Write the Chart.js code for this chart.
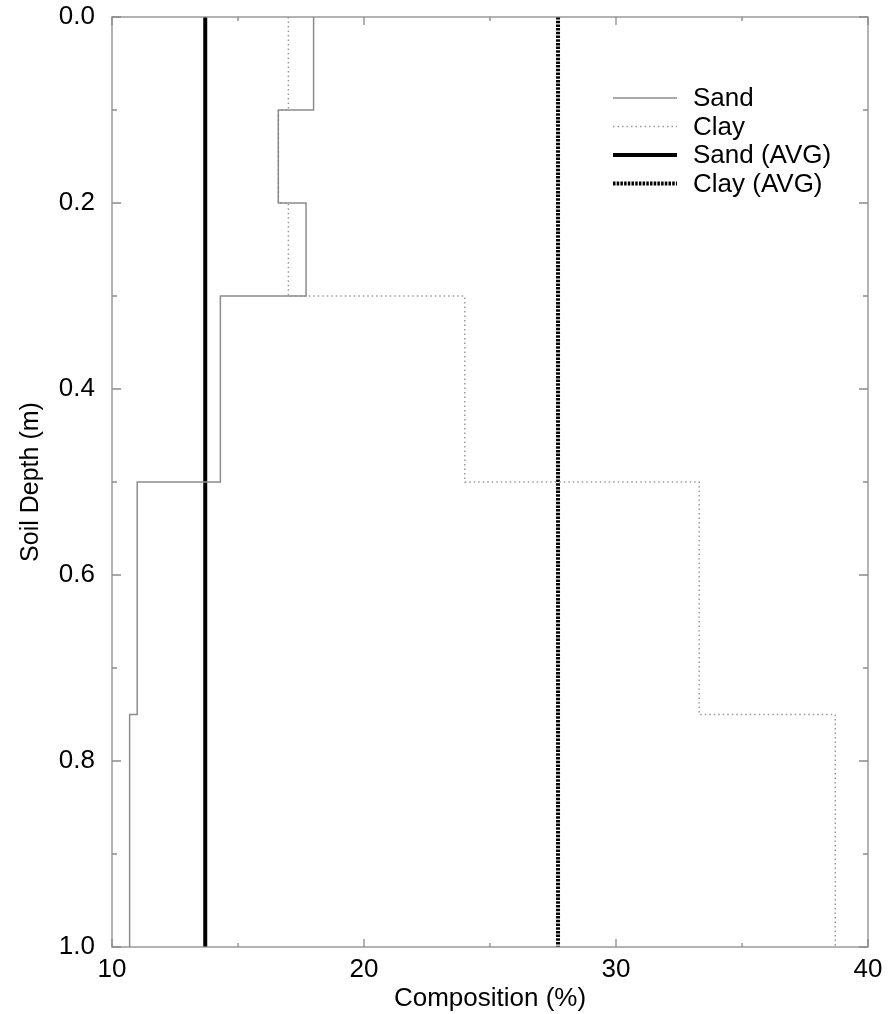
<!DOCTYPE html>
<html>
<head>
<meta charset="utf-8">
<script src="https://cdn.jsdelivr.net/npm/chart.js@4"></script>
<style>
  html, body { margin: 0; padding: 0; background: #fff; }
  #wrap { width: 891px; height: 1014px; }
</style>
</head>
<body>
<div id="wrap"><canvas id="profile" width="891" height="1014"></canvas></div>
<script>
// soil layers: boundaries in metres, one value per layer
const depthBounds = [0, 0.1, 0.2, 0.3, 0.5, 0.75, 1.0];
const sandPct = [18.0, 16.6, 17.7, 14.3, 11.0, 10.7];
const clayPct = [17.0, 16.6, 17.0, 24.0, 33.3, 38.7];
const sandAvg = 13.7;
const clayAvg = 27.7;

const xMajor = [10, 20, 30, 40];
const xMinor = [15, 25, 35];
const yMajor = [0, 0.2, 0.4, 0.6, 0.8, 1.0];
const yMinor = [0.1, 0.3, 0.5, 0.7, 0.9];

const FONT = "'Liberation Sans', Arial, sans-serif";
const FRAME = "#8a8a8a";

// turn per-layer values into a stepped depth profile
function profile(vals) {
  const pts = [];
  vals.forEach((v, i) => {
    pts.push({ x: v, y: depthBounds[i] });
    pts.push({ x: v, y: depthBounds[i + 1] });
  });
  return pts;
}

function vertical(v) {
  return [{ x: v, y: depthBounds[0] }, { x: v, y: depthBounds[depthBounds.length - 1] }];
}

const frameTicks = {
  id: "frameTicks",
  afterDatasetsDraw(chart) {
    const { ctx, chartArea: a, scales } = chart;
    ctx.save();
    ctx.strokeStyle = FRAME;
    ctx.lineWidth = 1.3;
    ctx.strokeRect(a.left, a.top, a.right - a.left, a.bottom - a.top);
    const tick = (vals, len) => {
      vals.forEach(v => {
        const px = scales.x.getPixelForValue(v);
        ctx.beginPath();
        ctx.moveTo(px, a.bottom); ctx.lineTo(px, a.bottom - len);
        ctx.moveTo(px, a.top); ctx.lineTo(px, a.top + len);
        ctx.stroke();
      });
    };
    const tickY = (vals, len) => {
      vals.forEach(v => {
        const py = scales.y.getPixelForValue(v);
        ctx.beginPath();
        ctx.moveTo(a.left, py); ctx.lineTo(a.left + len, py);
        ctx.moveTo(a.right, py); ctx.lineTo(a.right - len, py);
        ctx.stroke();
      });
    };
    tick(xMajor, 8); tick(xMinor, 4);
    tickY(yMajor, 9); tickY(yMinor, 5);
    ctx.restore();
  }
};

// legend in the upper right corner of the plot
const insideLegend = {
  id: "insideLegend",
  afterDraw(chart) {
    const { ctx, chartArea: a } = chart;
    ctx.save();
    ctx.font = "26px " + FONT;
    ctx.textBaseline = "middle";
    ctx.fillStyle = "#000";
    chart.data.datasets.forEach((ds, i) => {
      const y = a.top + 81 + i * 28.5;
      const x0 = a.right - 255, x1 = a.right - 191;
      ctx.strokeStyle = ds.borderColor;
      ctx.lineWidth = ds.borderWidth;
      ctx.setLineDash(ds.borderDash || []);
      ctx.beginPath();
      ctx.moveTo(x0, y); ctx.lineTo(x1, y);
      ctx.stroke();
      ctx.setLineDash([]);
      ctx.fillText(ds.label, a.right - 175, y + 1);
    });
    ctx.restore();
  }
};

new Chart(document.getElementById("profile"), {
  type: "scatter",
  data: {
    datasets: [
      { label: "Sand", data: profile(sandPct), borderColor: "#8c8c8c", borderWidth: 1.5 },
      { label: "Clay", data: profile(clayPct), borderColor: "#9a9a9a", borderWidth: 1.5, borderDash: [1.5, 3] },
      { label: "Sand (AVG)", data: vertical(sandAvg), borderColor: "#000", borderWidth: 4 },
      { label: "Clay (AVG)", data: vertical(clayAvg), borderColor: "#000", borderWidth: 4, borderDash: [2.5, 1.2] }
    ].map(d => Object.assign({ showLine: true, pointRadius: 0, pointHoverRadius: 0, tension: 0 }, d))
  },
  options: {
    responsive: false,
    animation: false,
    events: [],
    layout: { padding: { left: 0, top: 17, right: 23, bottom: 0 } },
    plugins: { legend: { display: false }, tooltip: { enabled: false } },
    scales: {
      x: {
        type: "linear",
        min: 10, max: 40,
        afterBuildTicks: s => { s.ticks = xMajor.map(v => ({ value: v })); },
        afterFit: s => { s.height = 67; s.paddingLeft = 0; s.paddingRight = 0; },
        grid: { display: false, drawTicks: false },
        border: { display: false },
        ticks: { padding: 7, color: "#000", font: { family: FONT, size: 26 }, maxRotation: 0 },
        title: { display: true, text: "Composition (%)", color: "#000", font: { family: FONT, size: 26 }, padding: { top: 3, bottom: 0 } }
      },
      y: {
        type: "linear",
        reverse: true,
        min: 0, max: 1,
        afterBuildTicks: s => { s.ticks = yMajor.map(v => ({ value: v })); },
        afterFit: s => { s.width = 112; s.paddingTop = 0; s.paddingBottom = 0; },
        grid: { display: false, drawTicks: false },
        border: { display: false },
        ticks: { padding: 17, color: "#000", font: { family: FONT, size: 26 }, callback: v => Number(v).toFixed(1) },
        title: { display: true, text: "Soil Depth (m)", color: "#000", font: { family: FONT, size: 25 }, padding: { top: 16, bottom: 0 } }
      }
    }
  },
  plugins: [frameTicks, insideLegend]
});
</script>
</body>
</html>
